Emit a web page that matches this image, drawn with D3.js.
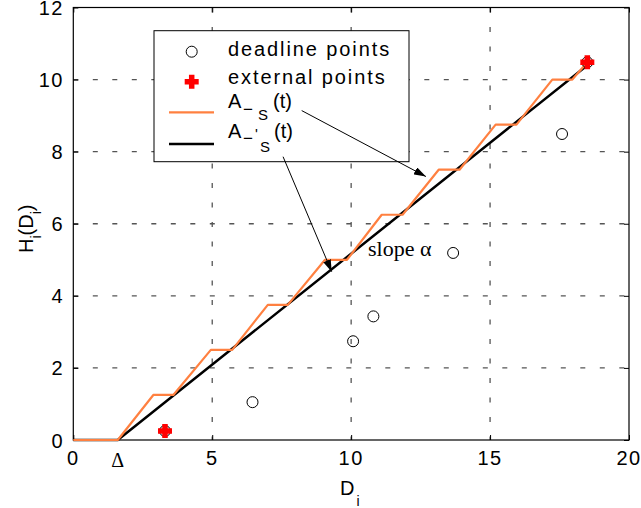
<!DOCTYPE html>
<html>
<head>
<meta charset="utf-8">
<script src="https://cdn.jsdelivr.net/npm/d3@7"></script>
<style>
  body { margin: 0; background: #fff; }
  svg { display: block; font-family: "Liberation Sans", Arial, sans-serif; }
  text { fill: #000; }
</style>
</head>
<body>
<svg width="641" height="508"></svg>
<script>
// staircase A_S(t) vertices
var stairX = [0, 1.6, 2.88, 3.6, 4.95, 5.72, 7.0, 7.72, 9.06, 9.85, 11.1, 11.85, 13.15, 13.9, 15.2, 15.95, 17.24, 17.96, 18.5];
var stairY = [0, 0, 1.25, 1.25, 2.5, 2.5, 3.75, 3.75, 5, 5, 6.25, 6.25, 7.5, 7.5, 8.75, 8.75, 10, 10, 10.48];
// linear bound A'_S(t)
var lineX = [0, 1.6, 18.5];
var lineY = [0, 0, 10.4];
// deadline points
var deadX = [3.3, 6.45, 10.07, 10.8, 13.67, 17.59, 18.5];
var deadY = [0.25, 1.05, 2.74, 3.43, 5.19, 8.49, 10.48];
// external points
var extX = [3.3, 18.5];
var extY = [0.25, 10.48];
var xTicks = [0, 5, 10, 15, 20];
var yTicks = [0, 2, 4, 6, 8, 10, 12];
var deltaX = 1.6;

var svg = d3.select('svg');
var pLeft = 73.3, pRight = 629, pTop = 7.5, pBottom = 440;
var x = d3.scaleLinear().domain([0, 20]).range([pLeft, pRight]);
var y = d3.scaleLinear().domain([0, 12]).range([pBottom, pTop]);

var orange = '#ff8040';

// grid
svg.append('g').selectAll('line')
    .data(yTicks.filter(d => d > 0 && d < 12))
    .enter().append('line')
      .attr('x1', pLeft).attr('x2', pRight)
      .attr('y1', d => y(d)).attr('y2', d => y(d))
      .attr('stroke', '#555').attr('stroke-width', 1.3)
      .attr('stroke-dasharray', '5 14.5');
svg.append('g').selectAll('line')
    .data(xTicks.filter(d => d > 0 && d < 20))
    .enter().append('line')
      .attr('x1', d => x(d)).attr('x2', d => x(d))
      .attr('y1', pTop).attr('y2', pBottom)
      .attr('stroke', '#555').attr('stroke-width', 1.3)
      .attr('stroke-dasharray', '5 14.5');

// frame with inward ticks
svg.append('rect')
    .attr('x', pLeft).attr('y', pTop)
    .attr('width', pRight - pLeft).attr('height', pBottom - pTop)
    .attr('fill', 'none').attr('stroke', '#000').attr('stroke-width', 1.2);
var tickLen = 5;
svg.append('g').attr('transform', `translate(0,${pBottom})`)
    .call(d3.axisBottom(x).tickValues(xTicks).tickSizeInner(-tickLen).tickSizeOuter(0).tickFormat(''))
    .call(g => g.select('.domain').remove());
svg.append('g').attr('transform', `translate(0,${pTop})`)
    .call(d3.axisTop(x).tickValues(xTicks).tickSizeInner(-tickLen).tickSizeOuter(0).tickFormat(''))
    .call(g => g.select('.domain').remove());
svg.append('g').attr('transform', `translate(${pLeft},0)`)
    .call(d3.axisLeft(y).tickValues(yTicks).tickSizeInner(-tickLen).tickSizeOuter(0).tickFormat(''))
    .call(g => g.select('.domain').remove());
svg.append('g').attr('transform', `translate(${pRight},0)`)
    .call(d3.axisRight(y).tickValues(yTicks).tickSizeInner(-tickLen).tickSizeOuter(0).tickFormat(''))
    .call(g => g.select('.domain').remove());

// tick labels
svg.append('g').selectAll('text')
    .data(xTicks)
    .enter().append('text')
      .attr('x', d => x(d)).attr('y', 465)
      .attr('text-anchor', 'middle')
      .attr('font-size', 20).attr('letter-spacing', 1.5)
      .text(d => d);
svg.append('g').selectAll('text')
    .data(yTicks)
    .enter().append('text')
      .attr('x', 64).attr('y', d => y(d) + 7.5)
      .attr('text-anchor', 'end')
      .attr('font-size', 20).attr('letter-spacing', 1.5)
      .text(d => d);
svg.append('text')
    .attr('x', x(deltaX)).attr('y', 467)
    .attr('text-anchor', 'middle')
    .attr('font-family', '"Liberation Serif", "Times New Roman", serif')
    .attr('font-size', 20)
    .text('Δ');

// axis titles
var xl = svg.append('text').attr('x', 340).attr('y', 495).attr('font-size', 20);
xl.append('tspan').text('D');
xl.append('tspan').attr('font-size', 14).attr('dy', 11).attr('dx', 2).text('i');

var yl = svg.append('text')
    .attr('transform', 'translate(33,253) rotate(-90)')
    .attr('font-size', 20);
yl.append('tspan').text('H');
yl.append('tspan').attr('font-size', 14).attr('dy', 8).text('i');
yl.append('tspan').attr('dy', -8).text('(D');
yl.append('tspan').attr('font-size', 14).attr('dy', 8).text('i');
yl.append('tspan').attr('dy', -8).text(')');

// lines
var stair = stairX.map((d, i) => [d, stairY[i]]);
var bound = lineX.map((d, i) => [d, lineY[i]]);
var path = d3.line().x(d => x(d[0])).y(d => y(d[1]));
svg.append('path').attr('d', path(bound))
    .attr('fill', 'none').attr('stroke', '#000').attr('stroke-width', 2.5);
svg.append('path').attr('d', path(stair))
    .attr('fill', 'none').attr('stroke', orange).attr('stroke-width', 2.2)
    .attr('stroke-linejoin', 'round');

// points
function cross(g, cx, cy) {
  g.append('path')
    .attr('d', `M${cx - 7},${cy}H${cx + 7}M${cx},${cy - 7}V${cy + 7}`)
    .attr('stroke', '#ff0000').attr('stroke-width', 5.5);
}
svg.append('g').selectAll('circle')
    .data(deadX.map((d, i) => [d, deadY[i]]))
    .enter().append('circle')
      .attr('cx', d => x(d[0])).attr('cy', d => y(d[1]))
      .attr('r', 5.5)
      .attr('fill', 'none').attr('stroke', '#000').attr('stroke-width', 1);
var ext = svg.append('g');
extX.forEach((d, i) => cross(ext, x(d), y(extY[i])));

// slope label
svg.append('text')
    .attr('x', 368).attr('y', 256)
    .attr('font-family', '"Liberation Serif", "Times New Roman", serif')
    .attr('font-size', 22)
    .text('slope α');

// legend
var lg = svg.append('g');
lg.append('rect')
    .attr('x', 154).attr('y', 30.7).attr('width', 255).attr('height', 131)
    .attr('fill', '#fff').attr('stroke', '#000').attr('stroke-width', 1);
lg.append('circle').attr('cx', 191.7).attr('cy', 51.7).attr('r', 5.5)
    .attr('fill', 'none').attr('stroke', '#000');
cross(lg, 191.7, 81.7);
lg.append('line').attr('x1', 169).attr('x2', 214).attr('y1', 112.3).attr('y2', 112.3)
    .attr('stroke', orange).attr('stroke-width', 2.2);
lg.append('line').attr('x1', 169).attr('x2', 214).attr('y1', 144).attr('y2', 144)
    .attr('stroke', '#000').attr('stroke-width', 2.5);
lg.append('text').attr('x', 228).attr('y', 56).attr('font-size', 20)
    .attr('letter-spacing', 1.9).text('deadline points');
lg.append('text').attr('x', 228).attr('y', 84).attr('font-size', 20)
    .attr('letter-spacing', 1.9).text('external points');

var t3 = lg.append('text').attr('font-size', 20);
t3.append('tspan').attr('x', 228).attr('y', 108).text('A');
t3.append('tspan').attr('x', 243).attr('y', 114.5).attr('font-size', 17).text('−');
t3.append('tspan').attr('x', 258).attr('y', 119.5).attr('font-size', 15).text('S');
t3.append('tspan').attr('x', 273).attr('y', 108).text('(t)');

var t4 = lg.append('text').attr('font-size', 20);
t4.append('tspan').attr('x', 228).attr('y', 138.3).text('A');
t4.append('tspan').attr('x', 243).attr('y', 144).attr('font-size', 17).text('−');
t4.append('tspan').attr('x', 255).attr('y', 139).attr('font-size', 15).text('\'');
t4.append('tspan').attr('x', 260).attr('y', 151.7).attr('font-size', 15).text('S');
t4.append('tspan').attr('x', 274).attr('y', 138.3).text('(t)');

// arrows
var defs = svg.append('defs');
defs.append('marker')
    .attr('id', 'head').attr('viewBox', '0 0 12 8')
    .attr('refX', 12).attr('refY', 4)
    .attr('markerWidth', 12).attr('markerHeight', 8)
    .attr('markerUnits', 'userSpaceOnUse')
    .attr('orient', 'auto')
  .append('path').attr('d', 'M0,0L12,4L0,8Z').attr('fill', '#000');
var arrows = [
  {x1: 8.22, y1: 9.14, x2: 12.69, y2: 7.31},
  {x1: 7.55, y1: 7.86, x2: 9.3, y2: 4.67}
];
svg.append('g').selectAll('line')
    .data(arrows)
    .enter().append('line')
      .attr('x1', d => x(d.x1)).attr('y1', d => y(d.y1))
      .attr('x2', d => x(d.x2)).attr('y2', d => y(d.y2))
      .attr('stroke', '#000').attr('stroke-width', 1)
      .attr('marker-end', 'url(#head)');
</script>
</body>
</html>
